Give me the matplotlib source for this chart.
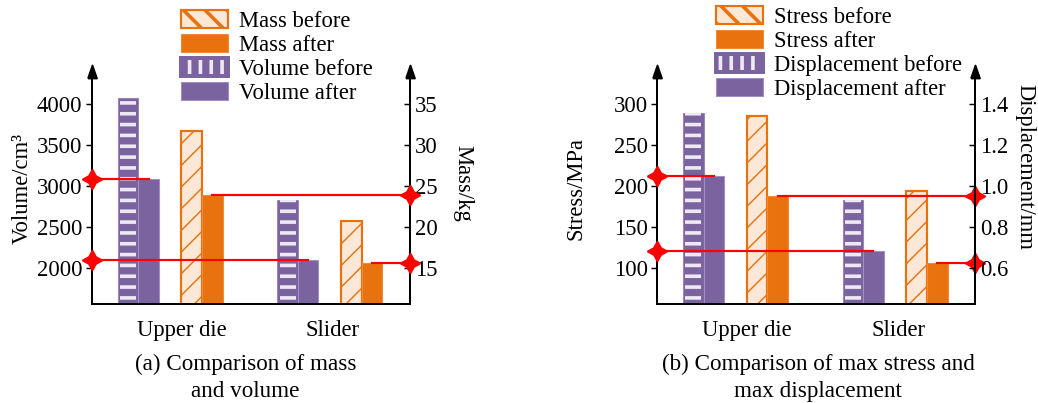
import numpy as np
import matplotlib
matplotlib.use("Agg")
import matplotlib.pyplot as plt
from matplotlib.patches import Patch

plt.rcParams['font.family'] = ['Liberation Serif', 'DejaVu Serif']
plt.rcParams['font.size'] = 12.5
plt.rcParams['hatch.linewidth'] = 2.0

parts = ['Upper die', 'Slider']

# (a) mass and volume
volume_before = [4073, 2838]
volume_after = [3090, 2106]
mass_before = [31.7, 20.8]
mass_after = [23.9, 15.7]

# (b) max stress and max displacement
disp_before = [1.359, 0.935]
disp_after = [1.049, 0.682]
stress_before = [286, 194]
stress_after = [188, 107]

purple = '#7b63a0'
stripe = '#eee9f2'
orange = '#e8720e'
light_orange = '#fde8d8'
red = '#ff0000'

DPI = 130
fig = plt.figure(figsize=(1038 / DPI, 403 / DPI), dpi=DPI)

x = np.arange(len(parts))
w = 0.129
offs = np.array([-2.05, -1.05, 1.05, 2.05]) * w

arrow = [(-4.5, 0), (4.5, 0), (0, 13), (-4.5, 0)]
star = (4, 1, 0)


def striped_bar(ax, xs, vals):
    # solid purple bar with narrower white striping laid over it
    ax.bar(xs, vals, w, color=purple, edgecolor='#9a86bb', linewidth=0.6)
    ax.bar(xs, vals, w * 0.78, fill=False, edgecolor=stripe, hatch='--', linewidth=0)


def hatched_bar(ax, xs, vals):
    b = ax.bar(xs, vals, w, color=light_orange, edgecolor=orange, hatch='//', linewidth=1.2)
    for p in b:
        if hasattr(p, 'set_hatch_linewidth'):
            p.set_hatch_linewidth(0.8)


def panel(left, lo, hi, lticks, lfmt, lo2, hi2, rticks, rfmt,
          purple_vals, orange_vals, purple_right,
          lname, rname, lcoords, rcoords, names, caption, cap_x, leg_x, leg_y):
    ax = fig.add_axes([left / 1038, 99 / 403, 317.5 / 1038, 226 / 403])
    ax2 = ax.twinx()
    ax.set_xlim(-0.49, 1.5)
    ax.set_ylim(lo, hi)
    ax2.set_ylim(lo2, hi2)

    # purple series sits on top so its reference line stays visible
    p_ax, o_ax = (ax2, ax) if purple_right else (ax, ax2)
    if not purple_right:
        ax.set_zorder(ax2.get_zorder() + 1)
        ax.patch.set_visible(False)
        ax2.patch.set_visible(True)

    p_before, p_after = purple_vals
    o_before, o_after = orange_vals

    striped_bar(p_ax, x + offs[0], p_before)
    p_ax.bar(x + offs[1], p_after, w, color=purple, edgecolor='#a08fc0', linewidth=0.6)
    hatched_bar(o_ax, x + offs[2], o_before)
    o_ax.bar(x + offs[3], o_after, w, color=orange, edgecolor='#f08a3a', linewidth=0.6)

    # reference lines: left axis to the purple "after" bars, right axis to the orange ones
    x0, x1 = ax.get_xlim()
    for i, v in enumerate(p_after):
        p_ax.plot([x0, x[i] + offs[1]], [v, v], color=red, lw=1.2, clip_on=False)
    p_ax.plot([x0, x0], p_after, ls='none', marker=star, ms=11, color=red,
              clip_on=False, zorder=10)
    for i, v in enumerate(o_after):
        o_ax.plot([x[i] + offs[3], x1], [v, v], color=red, lw=1.2, clip_on=False)
    o_ax.plot([x1, x1], o_after, ls='none', marker=star, ms=11, color=red,
              clip_on=False, zorder=10)

    for a in (ax, ax2):
        a.spines['top'].set_visible(False)
        for s in a.spines.values():
            s.set_linewidth(1.1)
    ax.spines['right'].set_visible(False)
    ax2.spines['left'].set_visible(False)

    ax.plot([0, 1], [1, 1], ls='none', marker=arrow, ms=14.4, color='black',
            transform=ax.transAxes, clip_on=False, zorder=20)

    ax.set_xticks(x + np.array([0.07, 0.02]))
    ax.set_xticklabels(parts)
    ax.tick_params(axis='x', length=0, pad=9)
    ax.set_yticks(lticks)
    ax.set_yticklabels([lfmt.format(t) for t in lticks])
    ax.tick_params(axis='y', direction='out', length=3.3, width=0.8, pad=2)
    ax2.set_yticks(rticks)
    ax2.set_yticklabels([rfmt.format(t) for t in rticks])
    ax2.tick_params(axis='y', direction='in', length=3.3, width=0.8, pad=3)

    ax.set_ylabel(lname, va='center')
    ax.yaxis.set_label_coords(*lcoords)
    ax2.set_ylabel(rname, rotation=270, va='center')
    ax2.yaxis.set_label_coords(*rcoords)

    handles = [
        Patch(facecolor=light_orange, edgecolor=orange, hatch='\\\\', linewidth=1.2),
        Patch(facecolor=orange, edgecolor='#f08a3a', linewidth=0.6),
        (Patch(facecolor=purple, edgecolor=stripe, hatch='||', linewidth=0),
         Patch(fill=False, edgecolor=purple, linewidth=2.2)),
        Patch(facecolor=purple, edgecolor='#a08fc0', linewidth=0.6),
    ]
    fig.legend(handles, names, loc='upper left',
               bbox_to_anchor=(leg_x / 1038, 1 - leg_y / 403),
               frameon=False, borderpad=0, borderaxespad=0,
               handlelength=2.1, handleheight=0.85, handletextpad=0.45,
               labelspacing=0.1)

    fig.text(cap_x / 1038, 1 - 378 / 403, caption, ha='center', va='center',
             linespacing=1.39, fontsize=12.8)
    return ax, ax2


panel(92, 1565, 4321, [2000, 2500, 3000, 3500, 4000], '{:g}',
      10.65, 38.21, [15, 20, 25, 30, 35], '{:g}',
      (volume_before, volume_after), (mass_before, mass_after), False,
      'Volume/cm³', 'Mass/kg', (-0.221, 0.509), (1.167, 0.535),
      ['Mass before', 'Mass after', 'Volume before', 'Volume after'],
      '(a) Comparison of mass\nand volume', 245.5, 181, 10)

panel(657.3, 56.5, 332.1, [100, 150, 200, 250, 300], '{:g}',
      0.426, 1.528, [0.6, 0.8, 1.0, 1.2, 1.4], '{:.1f}',
      (disp_before, disp_after), (stress_before, stress_after), True,
      'Stress/MPa', 'Displacement/mm', (-0.256, 0.513), (1.157, 0.606),
      ['Stress before', 'Stress after', 'Displacement before', 'Displacement after'],
      '(b) Comparison of max stress and\nmax displacement', 818.3, 716, 6)

fig.savefig('out.png', dpi=DPI)
